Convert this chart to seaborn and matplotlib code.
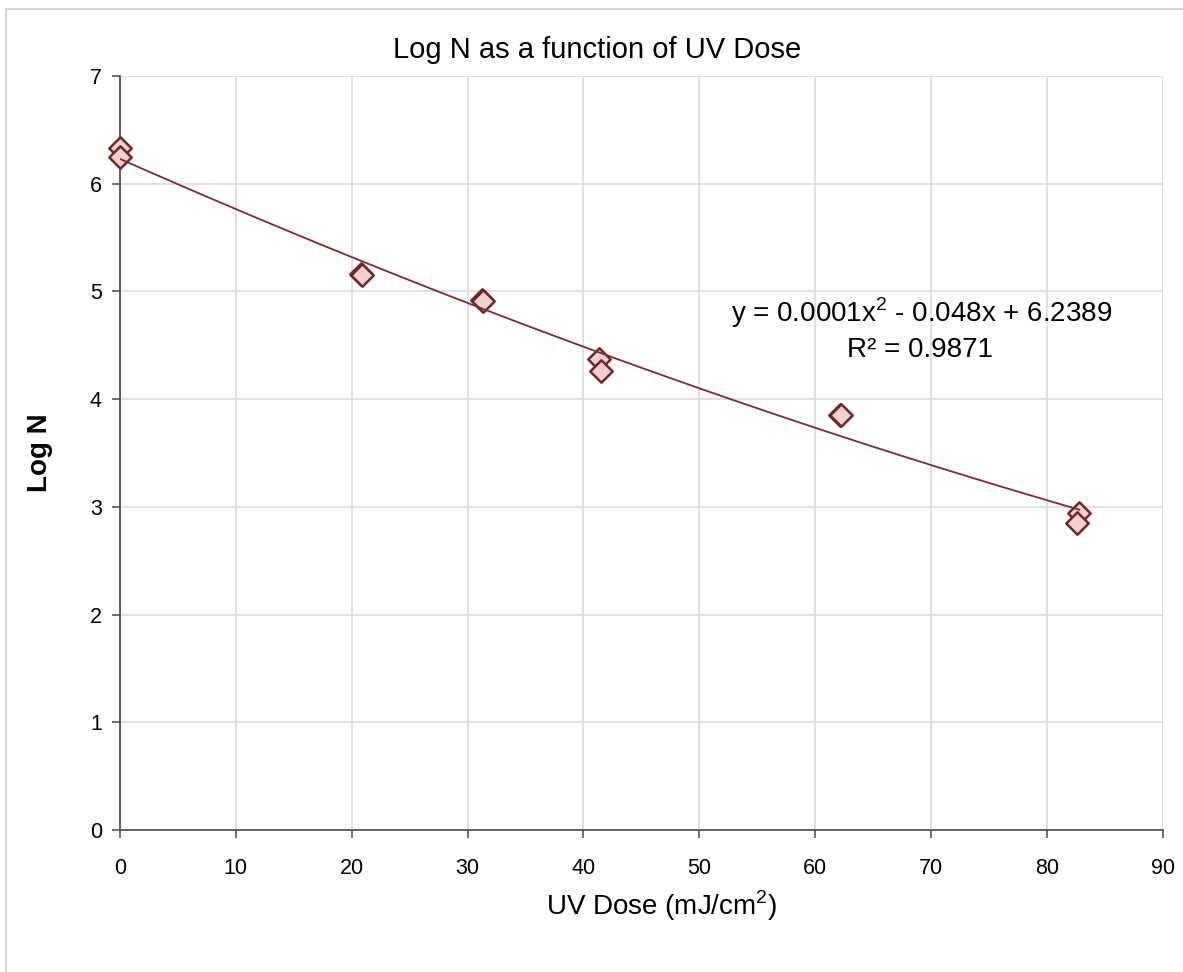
import numpy as np
import pandas as pd
import matplotlib
matplotlib.use("Agg")
import matplotlib.pyplot as plt
import seaborn as sns

# data
uv_dose = [0.0, 0.0, 20.8, 20.9, 31.2, 31.3, 41.3, 41.5, 62.1, 62.2, 82.8, 82.6]
log_n = [6.33, 6.25, 5.16, 5.15, 4.92, 4.91, 4.37, 4.26, 3.85, 3.85, 2.94, 2.85]

x_ticks = list(range(0, 91, 10))
y_ticks = list(range(0, 8))
equation_text = "y = 0.0001x$^2$ - 0.048x + 6.2389"
r2_text = "R² = 0.9871"

df = pd.DataFrame({"dose": uv_dose, "logn": log_n})

sns.set_style("whitegrid")
plt.rcParams["font.family"] = ["Liberation Sans", "DejaVu Sans"]
plt.rcParams["mathtext.fontset"] = "custom"
plt.rcParams["mathtext.rm"] = "Liberation Sans"
plt.rcParams["text.color"] = "black"
plt.rcParams["axes.labelcolor"] = "black"
plt.rcParams["xtick.color"] = "black"
plt.rcParams["ytick.color"] = "black"

maroon = "#6E2626"
fill = "#F3D0D0"

fig = plt.figure(figsize=(11.83, 9.72), dpi=100)
ax = fig.add_axes([0.1014, 0.1461, 0.8816, 0.7757])

sns.scatterplot(data=df, x="dose", y="logn", marker="D", s=130,
                color=fill, edgecolor=maroon, linewidth=1.8, ax=ax,
                zorder=3, clip_on=False)
sns.regplot(data=df, x="dose", y="logn", order=2, ci=None, scatter=False,
            line_kws={"color": "#7A2E2E", "linewidth": 1.3, "zorder": 4}, ax=ax)

ax.set_xlim(0, 90)
ax.set_ylim(0, 7)
ax.set_xticks(x_ticks)
ax.set_yticks(y_ticks)
ax.tick_params(axis="both", labelsize=15.5, length=6, width=1.2,
               color="#555555", direction="out", left=True, bottom=True)
ax.tick_params(axis="x", pad=14)
ax.tick_params(axis="y", pad=7)
ax.grid(True, color="#D9D9D9", linewidth=1.1)
for side in ["top", "right"]:
    ax.spines[side].set_visible(False)
for side in ["left", "bottom"]:
    ax.spines[side].set_color("#555555")
    ax.spines[side].set_linewidth(1.3)

fig.suptitle("Log N as a function of UV Dose", fontsize=21, x=0.505, y=0.949,
             va="center")
ax.set_xlabel("UV Dose (mJ/cm$^2$)", fontsize=20)
ax.xaxis.set_label_coords(0.5195, -0.077)
ax.set_ylabel("Log N", fontsize=20, fontweight="bold")
ax.yaxis.set_label_coords(-0.064, 0.5)

ax.text(69.2, 4.80, equation_text, fontsize=20, ha="center", va="center")
ax.text(69.0, 4.46, r2_text, fontsize=20, ha="center", va="center")

# light outer frame of the chart area
fig.add_artist(plt.Rectangle((0.005, -0.01), 1.2, 0.9995 - 0.0092 + 0.01,
                             transform=fig.transFigure, fill=False,
                             edgecolor="#D0D0D0", linewidth=1.2))

fig.savefig("out.png", dpi=100)
